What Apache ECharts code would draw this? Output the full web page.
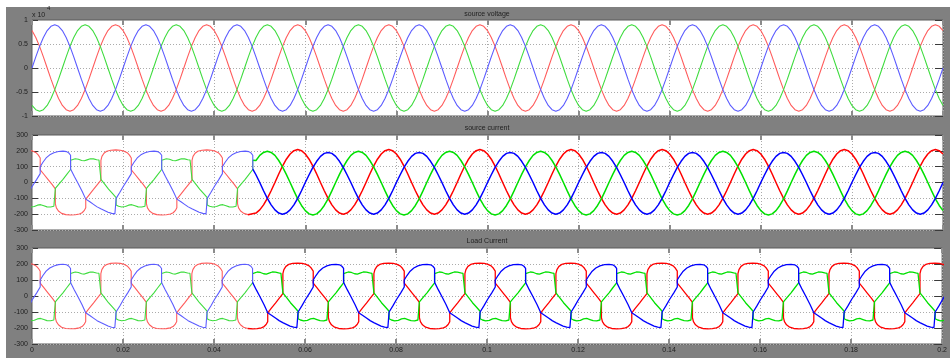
<!DOCTYPE html>
<html>
<head>
<meta charset="utf-8">
<script src="https://cdn.jsdelivr.net/npm/echarts@6/dist/echarts.min.js"></script>
<style>
  html, body { margin: 0; padding: 0; background: #fff; }
  #chart { width: 950px; height: 358px; }
</style>
</head>
<body>
<div id="chart"></div>
<script>
// ---- axis ticks -------------------------------------------------------
const timeTickLabels    = ['0', '0.02', '0.04', '0.06', '0.08', '0.1', '0.12', '0.14', '0.16', '0.18', '0.2'];
const voltageTickLabels = ['-1', '-0.5', '0', '0.5', '1'];          // in units of 10^4 V
const currentTickLabels = ['-300', '-200', '-100', '0', '100', '200', '300'];

// ---- timing (ms) ------------------------------------------------------
const CYCLE_MS = 20;                 // 50 Hz supply
const SAMPLE_MS = 20 / 24;           // one sample every 15 degrees
const END_MS = 200;
const COMPENSATION_ON_MS = 48.47;    // filter switched in

// ---- supply voltage, one cycle of samples (V) -------------------------
const voltageRed   = [7794, 6364, 4500, 2329, 0, -2329, -4500, -6364, -7794, -8693, -9000, -8693,
                      -7794, -6364, -4500, -2329, 0, 2329, 4500, 6364, 7794, 8693, 9000, 8693];
const voltageGreen = [-7794, -8693, -9000, -8693, -7794, -6364, -4500, -2329, 0, 2329, 4500, 6364,
                      7794, 8693, 9000, 8693, 7794, 6364, 4500, 2329, 0, -2329, -4500, -6364];
const voltageBlue  = [0, 2329, 4500, 6364, 7794, 8693, 9000, 8693, 7794, 6364, 4500, 2329,
                      0, -2329, -4500, -6364, -7794, -8693, -9000, -8693, -7794, -6364, -4500, -2329];

// ---- compensated source current, one cycle of samples (A) -------------
const sourceRed   = [180, 147, 104, 54, 0, -52, -100, -141, -173, -193, -200, -193,
                     -173, -141, -100, -52, 0, 54, 104, 147, 180, 201, 208, 201];
const sourceGreen = [-178, -198, -205, -198, -178, -145, -103, -53, 0, 51, 99, 139,
                     171, 190, 197, 190, 171, 139, 99, 51, 0, -53, -103, -145];
const sourceBlue  = [0, 49, 95, 134, 165, 184, 190, 184, 165, 134, 95, 49,
                     0, -52, -100, -141, -173, -193, -200, -193, -173, -141, -100, -52];

// ---- non-linear load current, one cycle as [ms, A] ---------------------
const loadRed = [
  [1.8, 155], [1.8, 80], [2.6, 52], [3.5, 20], [4.4, -12], [5.13, -40],
  [5.13, -135], [5.35, -160], [5.8, -180], [6.5, -195], [7.4, -203], [8.5, -205],
  [9.5, -204], [10.4, -199], [11.0, -191], [11.45, -178], [11.8, -160],
  [11.8, -105], [12.6, -76], [13.5, -44], [14.3, -15], [15.13, 15],
  [15.13, 140], [15.35, 165], [15.8, 185], [16.4, 197], [17.3, 204], [18.4, 206],
  [19.4, 204], [20.2, 198], [20.9, 188], [21.4, 173]
];
const loadGreen = [
  [5.13, -148], [5.13, -37], [5.9, -10], [6.8, 20], [7.6, 50], [8.47, 82],
  [8.47, 140], [8.9, 146], [9.5, 150], [10.2, 147], [10.9, 139], [11.5, 137],
  [12.1, 143], [12.8, 150], [13.5, 149], [14.2, 144], [14.7, 142], [15.13, 145],
  [15.13, 20], [16.0, -12], [16.8, -42], [17.7, -70], [18.47, -95],
  [18.47, -142], [19.0, -150], [19.7, -155], [20.5, -152], [21.2, -143], [21.9, -140],
  [22.6, -147], [23.3, -154], [24.1, -155], [24.8, -150]
];
const loadBlue = [
  [18.47, -198], [18.47, -100], [19.3, -62], [20.1, -22], [21.0, 18], [21.8, 56],
  [21.8, 100], [22.4, 128], [23.1, 155], [23.9, 175], [24.8, 188], [25.8, 196],
  [26.8, 198], [27.6, 195], [28.1, 186], [28.47, 172],
  [28.47, 85], [29.3, 38], [30.1, -5], [31.0, -55], [31.8, -105],
  [32.7, -122], [33.5, -138], [34.3, -154], [35.1, -166], [35.9, -177], [36.7, -188],
  [37.5, -195], [38.2, -198]
];

// ---- helpers: lay recorded cycles out along the time axis -------------
function repeatSamples(cycle, fromMs, toMs) {
  const out = [];
  for (let k = 0; k * CYCLE_MS <= toMs; k++) {
    for (let i = 0; i < cycle.length; i++) {
      const t = k * CYCLE_MS + i * SAMPLE_MS;
      if (t >= fromMs && t <= toMs + 1e-9) out.push([t / 1000, cycle[i]]);
    }
  }
  return out;
}
function repeatPairs(cycle, fromMs, toMs) {
  const out = [];
  for (let k = -2; k <= 11; k++) {
    for (const [ms, v] of cycle) {
      const t = ms + k * CYCLE_MS;
      if (t >= fromMs && t <= toMs) out.push([t / 1000, v]);
    }
  }
  return out;
}
function splitAt(points, ms) {
  const s = ms / 1000;
  let last = 0;
  for (let i = 0; i < points.length; i++) if (points[i][0] <= s) last = i;
  return { before: points.slice(0, last + 1), after: points.slice(last) };
}

const light = { red: '#ff5c5c', green: '#3fdc3f', blue: '#5c5cff' };
const dark  = { red: '#ff0000', green: '#00e000', blue: '#0000ff' };

function line(name, data, color, width, grid) {
  return {
    name, type: 'line', data, xAxisIndex: grid, yAxisIndex: grid,
    showSymbol: false, symbol: 'none', clip: true, animation: false,
    lineStyle: { color, width }, emphasis: { disabled: true }
  };
}

const series = [];
// source voltage
series.push(line('Va', repeatSamples(voltageRed, 0, END_MS), light.red, 1.1, 0));
series.push(line('Vb', repeatSamples(voltageGreen, 0, END_MS), light.green, 1.1, 0));
series.push(line('Vc', repeatSamples(voltageBlue, 0, END_MS), light.blue, 1.1, 0));

// load and source currents
const phases = [
  ['red', loadRed, sourceRed],
  ['green', loadGreen, sourceGreen],
  ['blue', loadBlue, sourceBlue]
];
for (const [c, loadCycle, srcCycle] of phases) {
  const load = repeatPairs(loadCycle, -25, END_MS + 25);
  const parts = splitAt(load, COMPENSATION_ON_MS);
  // source current: equals load current until compensation, sinusoidal afterwards
  const srcAfter = repeatSamples(srcCycle, COMPENSATION_ON_MS + 0.01, END_MS);
  series.push(line('Is ' + c, parts.before, light[c], 1.1, 1));
  series.push(line('Is ' + c + ' comp', [parts.before[parts.before.length - 1]].concat(srcAfter), dark[c], 1.5, 1));
  series.push(line('IL ' + c, parts.before, light[c], 1.1, 2));
  series.push(line('IL ' + c + ' comp', parts.after, dark[c], 1.3, 2));
}

const FONT = 'Liberation Sans, Arial, sans-serif';
const grids = [
  { top: 20, height: 96 },
  { top: 135, height: 95 },
  { top: 248, height: 96 }
].map(g => Object.assign({
  left: 32, width: 911, show: true, backgroundColor: '#ffffff',
  borderColor: '#5a5a5a', borderWidth: 1, containLabel: false
}, g));

const dotted = { color: '#ababab', type: [1, 2], width: 1 };
const xAxes = [], yAxes = [];
for (let g = 0; g < 3; g++) {
  xAxes.push({
    type: 'value', gridIndex: g, min: 0, max: 0.2, interval: 0.02, position: 'bottom',
    axisLine: { show: false, onZero: false },
    axisTick: { show: true, inside: true, length: 5, lineStyle: { color: '#8c8c8c', width: 2 } },
    axisLabel: {
      show: g === 2, fontSize: 7, color: '#1e1e1e', margin: 3, fontFamily: FONT,
      formatter: v => timeTickLabels[Math.round(v / 0.02)]
    },
    splitLine: { show: true, lineStyle: dotted }
  });
}
for (let g = 0; g < 3; g++) {
  xAxes.push({
    type: 'value', gridIndex: g, min: 0, max: 0.2, interval: 0.02, position: 'top',
    axisLine: { show: false, onZero: false }, axisLabel: { show: false }, splitLine: { show: false },
    axisTick: { show: true, inside: true, length: 5, lineStyle: { color: '#8c8c8c', width: 2 } }
  });
}
const yRanges = [
  { min: -10000, max: 10000, interval: 5000, labels: voltageTickLabels },
  { min: -300, max: 300, interval: 100, labels: currentTickLabels },
  { min: -300, max: 300, interval: 100, labels: currentTickLabels }
];
yRanges.forEach((r, g) => {
  yAxes.push({
    type: 'value', gridIndex: g, min: r.min, max: r.max, interval: r.interval,
    axisLine: { show: false, onZero: false },
    axisTick: { show: true, inside: true, length: 6, lineStyle: { color: '#3a3a3a', width: 1 } },
    axisLabel: {
      fontSize: 7, color: '#1e1e1e', margin: 4, fontFamily: FONT,
      formatter: v => r.labels[Math.round((v - r.min) / r.interval)]
    },
    splitLine: { show: true, lineStyle: dotted }
  });
});
yRanges.forEach((r, g) => {
  yAxes.push({
    type: 'value', gridIndex: g, min: r.min, max: r.max, interval: r.interval, position: 'right',
    axisLine: { show: false, onZero: false }, axisLabel: { show: false }, splitLine: { show: false },
    axisTick: { show: true, inside: true, length: 8, lineStyle: { color: '#3a3a3a', width: 1 } }
  });
});

const textStyle = (text, x, y, size, align) => ({
  type: 'text', x, y, silent: true,
  style: { text, fill: '#1e1e1e', font: size + 'px ' + FONT, textAlign: align || 'center', textVerticalAlign: 'middle' }
});

const chart = echarts.init(document.getElementById('chart'), null, { renderer: 'canvas' });
chart.setOption({
  backgroundColor: '#ffffff',
  animation: false,
  graphic: [
    { type: 'rect', shape: { x: 6, y: 7, width: 944, height: 351 }, style: { fill: '#808080' }, z: -10, silent: true },
    textStyle('source voltage', 487, 14, 7),
    textStyle('source current', 487, 128, 7),
    textStyle('Load Current', 487, 241, 7),
    textStyle('x 10', 32, 15, 7, 'left'),
    textStyle('4', 47, 8, 6, 'left')
  ],
  grid: grids,
  xAxis: xAxes,
  yAxis: yAxes,
  series
});
</script>
</body>
</html>
